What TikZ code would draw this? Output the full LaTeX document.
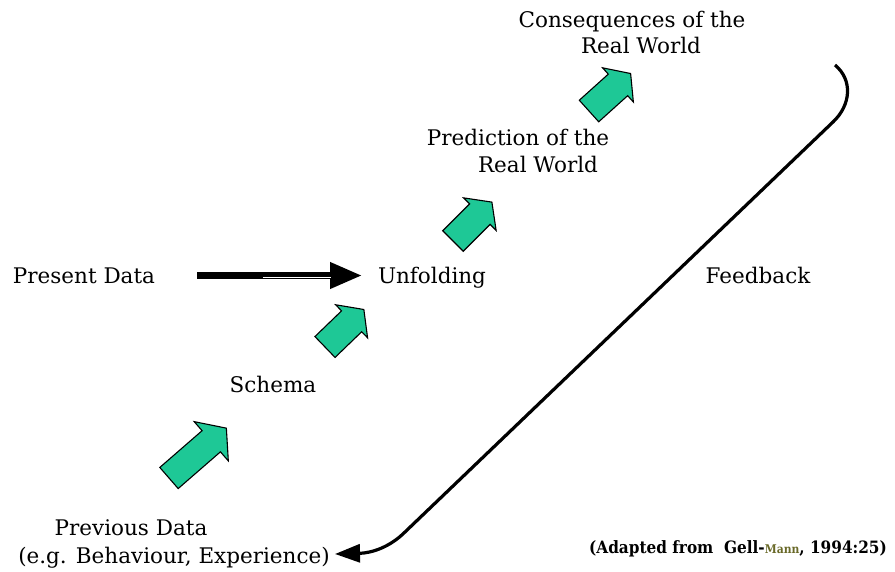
\documentclass[tikz,border=0pt]{standalone}
\usepackage{fontspec}
\setmainfont{DejaVu Serif}
\newfontfamily\notefont{DejaVu Serif Condensed}
\usetikzlibrary{arrows.meta}
\definecolor{mint}{RGB}{30,200,150}
\definecolor{mannolive}{RGB}{105,105,40}
\tikzset{
  lbl/.style={font=\fontsize{21.5}{26}\selectfont, inner sep=0pt, anchor=base},
  note/.style={font=\notefont\bfseries\fontsize{17}{20}\selectfont, inner sep=0pt, anchor=base},
  ga/.style={fill=mint, draw=black, line width=1.1pt, line join=miter},
  pics/greenarrow/.style args={#1/#2/#3/#4}{code={
    % length / shaft half-width / head half-width / head length
    \draw[ga] (0,-#2) -- (#1-#4,-#2) -- (#1-#4,-#3) -- (#1,0)
      -- (#1-#4,#3) -- (#1-#4,#2) -- (0,#2) -- cycle;
  }},
}
\begin{document}
\begin{tikzpicture}[x=1pt,y=-1pt]
\useasboundingbox (0,0) rectangle (895,571);

% labels
\node[lbl] (present) at (84,283) {Present Data};
\node[lbl] (unfold) at (432,283) {Unfolding};
\node[lbl] (feedback) at (758,283) {Feedback};
\node[lbl] (schema) at (273,392) {Schema};
\node[lbl] (pred1) at (518,145) {Prediction of the};
\node[lbl] (pred2) at (538,172) {Real World};
\node[lbl] (cons1) at (632,27) {Consequences of the};
\node[lbl] (cons2) at (641,53) {Real World};
\node[lbl] (prev1) at (131,535) {Previous Data};
\node[lbl] (prev2) at (174,563) {(e.g. Behaviour, Experience)};
\node[note] (source) at (738,553) {(Adapted from\ \ Gell-{\color{mannolive}\fontsize{12}{14}\selectfont Mann}, 1994:25)};

% present data feeds the unfolding
\coordinate (pa) at (197,275.5);
\coordinate (pb) at (362,275.5);
\draw[line width=7pt, -{Triangle[length=32pt,width=25pt]}] (pa) -- (pb);
\draw[white, line width=1.4pt] (263,277.5) -- (331,277.5);

% green block arrows between stages
\pic (g1) [rotate=41] at (169,478) {greenarrow=76/14/26/20};
\pic (g2) [rotate=44] at (325,347) {greenarrow=54/14.5/23/17};
\pic (g3) [rotate=45] at (453,241) {greenarrow=55/14.5/23/17};
\pic (g4) [rotate=42] at (589,111) {greenarrow=56/14.5/23/17};

% feedback loop back to the previous data
\coordinate (fbstart) at (835,65);
\coordinate (fbend) at (335,554);
\draw[line width=3.2pt, -{Triangle[length=25pt,width=18pt]}]
  (fbstart) .. controls (853,80) and (851,105) .. (833,122)
  -- (405,532) .. controls (390,547) and (372,553) .. (fbend);
\end{tikzpicture}
\end{document}
